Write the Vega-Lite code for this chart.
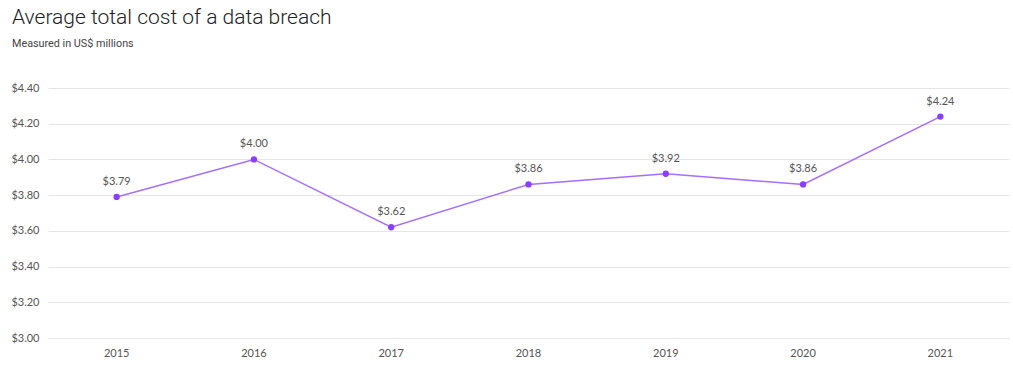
{
  "$schema": "https://vega.github.io/schema/vega-lite/v6.json",
  "autosize": {"type": "none"},
  "padding": {"left": 48, "top": 88, "right": 4, "bottom": 33},
  "width": 961,
  "height": 250,
  "background": "white",
  "title": {
    "text": "Average total cost of a data breach",
    "subtitle": "Measured in US$ millions",
    "anchor": "start",
    "frame": "group",
    "dx": -36,
    "offset": 33,
    "font": "Roboto",
    "fontSize": 21,
    "fontWeight": 300,
    "color": "#222222",
    "subtitleFont": "Roboto",
    "subtitleFontSize": 10.8,
    "subtitleColor": "#444444",
    "subtitlePadding": 10
  },
  "data": {
    "values": [
      {"year": "2015", "cost": 3.79},
      {"year": "2016", "cost": 4.00},
      {"year": "2017", "cost": 3.62},
      {"year": "2018", "cost": 3.86},
      {"year": "2019", "cost": 3.92},
      {"year": "2020", "cost": 3.86},
      {"year": "2021", "cost": 4.24}
    ]
  },
  "encoding": {
    "x": {
      "field": "year",
      "type": "ordinal",
      "scale": {"type": "band", "paddingInner": 0, "paddingOuter": 0},
      "axis": {
        "title": null,
        "labelAngle": 0,
        "domain": false,
        "ticks": false,
        "grid": false,
        "labelFont": "Lato",
        "labelFontSize": 11,
        "labelColor": "#555555",
        "labelPadding": 9
      }
    },
    "y": {
      "field": "cost",
      "type": "quantitative",
      "scale": {"domain": [3.0, 4.4], "nice": false, "zero": false},
      "axis": {
        "title": null,
        "values": [3.0, 3.2, 3.4, 3.6, 3.8, 4.0, 4.2, 4.4],
        "format": "$.2f",
        "domain": false,
        "ticks": false,
        "gridColor": "#e6e6e6",
        "gridWidth": 1,
        "labelFont": "Lato",
        "labelFontSize": 11,
        "labelColor": "#555555",
        "labelPadding": 9
      }
    }
  },
  "layer": [
    {"mark": {"type": "line", "color": "#a56eff", "strokeWidth": 1.5}},
    {"mark": {"type": "point", "filled": true, "color": "#8a3ffc", "size": 40, "opacity": 1}},
    {
      "mark": {"type": "text", "dy": -15, "font": "Lato", "fontSize": 11, "color": "#555555"},
      "encoding": {"text": {"field": "cost", "type": "quantitative", "format": "$.2f"}}
    }
  ],
  "config": {"view": {"stroke": null}}
}
